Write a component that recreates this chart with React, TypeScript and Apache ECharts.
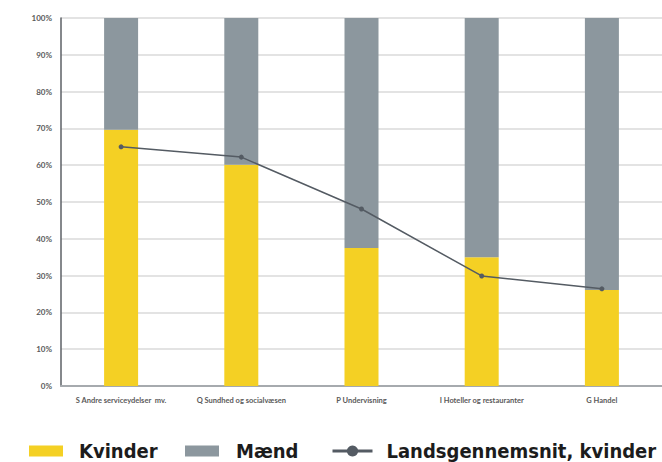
import React, { useEffect, useRef } from "react";
import * as echarts from "echarts";

const categories = [
  "S Andre serviceydelser  mv.",
  "Q Sundhed og socialvæsen",
  "P Undervisning",
  "I Hoteller og restauranter",
  "G Handel",
];
const kvinder = [69.6, 60.1, 37.5, 35.0, 26.1];
const maend = [30.4, 39.9, 62.5, 65.0, 73.9];
const landsgennemsnit = [65.0, 62.2, 48.1, 29.9, 26.4];

const YELLOW = "#F4D024";
const GREY = "#8C979E";
const LINE = "#545B63";
const LEGEND_FONT = "'DejaVu Sans Condensed', 'DejaVu Sans', sans-serif";

export default function App() {
  const ref = useRef<HTMLDivElement>(null);
  useEffect(() => {
    if (!ref.current) return;
    const chart = echarts.init(ref.current, undefined, { renderer: "svg" });
    const legendText = (pad: number) => ({
      fontFamily: LEGEND_FONT,
      fontWeight: "bold",
      fontSize: 20,
      lineHeight: 20,
      color: "#1c1c1c",
      padding: [0, 0, 0, pad],
    });
    chart.setOption({
      animation: false,
      backgroundColor: "#ffffff",
      grid: { left: 61, top: 18, width: 602, height: 368, containLabel: false },
      legend: [
        {
          data: ["Kvinder"],
          left: 29,
          top: 441,
          padding: 0,
          itemWidth: 34,
          itemHeight: 11,
          icon: "rect",
          textStyle: legendText(11),
        },
        {
          data: ["Mænd"],
          left: 185,
          top: 441,
          padding: 0,
          itemWidth: 34,
          itemHeight: 11,
          icon: "rect",
          textStyle: legendText(12),
        },
        {
          data: ["Landsgennemsnit, kvinder"],
          left: 331,
          top: 441,
          padding: 0,
          itemWidth: 40,
          itemHeight: 14,
          lineStyle: { width: 3 },
          textStyle: legendText(9),
        },
      ],
      xAxis: {
        type: "category",
        data: categories,
        axisLine: { show: true, lineStyle: { color: "#A6AAAE", width: 2 } },
        axisTick: { show: false },
        axisLabel: {
          interval: 0,
          margin: 10,
          fontFamily: "Lato, 'Open Sans', sans-serif",
          fontWeight: "bold",
          fontSize: 7.5,
          color: "#5a5a5a",
        },
      },
      yAxis: {
        type: "value",
        min: 0,
        max: 100,
        interval: 10,
        axisLine: { show: true, lineStyle: { color: "#5d6166", width: 1.5 } },
        axisTick: { show: false },
        splitLine: { lineStyle: { color: "#DADADA", width: 1.5 } },
        axisLabel: {
          formatter: "{value}%",
          margin: 9,
          fontFamily: "Lato, 'Open Sans', sans-serif",
          fontWeight: "bold",
          fontSize: 8,
          color: "#5a5a5a",
        },
      },
      series: [
        {
          name: "Kvinder",
          type: "bar",
          stack: "total",
          barWidth: 34,
          data: kvinder,
          itemStyle: { color: YELLOW },
        },
        {
          name: "Mænd",
          type: "bar",
          stack: "total",
          barWidth: 34,
          data: maend,
          itemStyle: { color: GREY },
        },
        {
          name: "Landsgennemsnit, kvinder",
          type: "line",
          data: landsgennemsnit,
          symbol: "circle",
          symbolSize: 5,
          lineStyle: { color: LINE, width: 1.5 },
          itemStyle: { color: LINE },
          z: 5,
        },
      ],
    });
    return () => chart.dispose();
  }, []);
  return (
    <div
      ref={ref}
      style={{ position: "absolute", left: 0, top: 0, width: 662, height: 462 }}
    />
  );
}
